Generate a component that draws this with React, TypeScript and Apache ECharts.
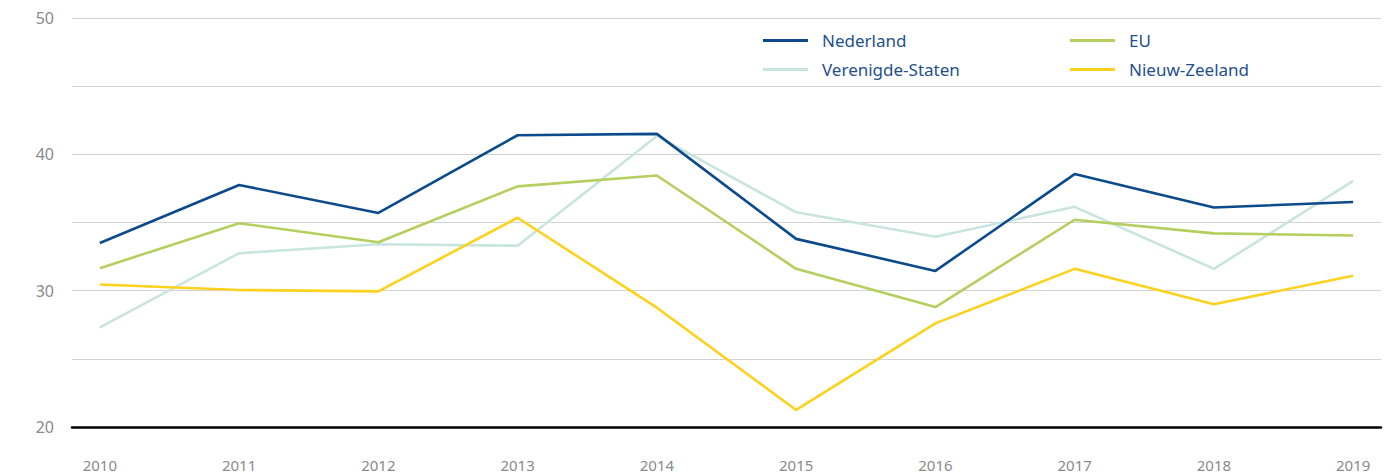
import React, { useEffect, useRef } from "react";
import * as echarts from "echarts";

const years = [2010, 2011, 2012, 2013, 2014, 2015, 2016, 2017, 2018, 2019];
const nederland = [33.5, 37.75, 35.7, 41.4, 41.5, 33.8, 31.45, 38.55, 36.1, 36.5];
const eu = [31.65, 34.95, 33.55, 37.65, 38.45, 31.6, 28.8, 35.2, 34.2, 34.05];
const verenigdeStaten = [27.3, 32.75, 33.4, 33.3, 41.35, 35.75, 33.95, 36.15, 31.6, 38.05];
const nieuwZeeland = [30.45, 30.05, 29.95, 35.35, 28.75, 21.25, 27.6, 31.6, 29.0, 31.1];
const yTickLabels = [20, 30, 40, 50];

const FONT = "'Noto Sans', sans-serif";

function zip(vals: number[]) {
  return years.map((y, i) => [y, vals[i]]);
}

export default function App() {
  const ref = useRef<HTMLDivElement>(null);
  useEffect(() => {
    if (!ref.current) return;
    const chart = echarts.init(ref.current, null, { renderer: "svg" });
    const legendCommon = {
      orient: "vertical" as const,
      padding: 0,
      icon: "rect",
      itemWidth: 45,
      itemHeight: 3,
      itemGap: 12,
      textStyle: {
        color: "#1f4f8e",
        fontSize: 17,
        lineHeight: 17,
        fontFamily: FONT,
        padding: [0, 0, 0, 9],
      },
    };
    const series = [
      { name: "Verenigde-Staten", color: "#c8e4df", data: verenigdeStaten },
      { name: "Nieuw-Zeeland", color: "#fdd11c", data: nieuwZeeland },
      { name: "EU", color: "#b5cf5e", data: eu },
      { name: "Nederland", color: "#0b4a8b", data: nederland },
    ].map((s) => ({
      type: "line" as const,
      name: s.name,
      data: zip(s.data),
      symbol: "none",
      color: s.color,
      itemStyle: { color: s.color },
      lineStyle: { color: s.color, width: 2.6 },
    }));
    chart.setOption({
      animation: false,
      textStyle: { fontFamily: FONT },
      grid: { left: 72, right: 14, top: 18, bottom: 46, containLabel: false },
      legend: [
        { ...legendCommon, left: 763, top: 32, data: ["Nederland", "Verenigde-Staten"] },
        { ...legendCommon, left: 1070, top: 32, data: ["EU", "Nieuw-Zeeland"] },
      ],
      xAxis: {
        type: "value",
        min: 2009.8,
        max: 2019.2,
        axisLine: { show: true, lineStyle: { color: "#000", width: 2.5 } },
        axisTick: { show: false },
        splitLine: { show: false },
        axisLabel: {
          customValues: years,
          formatter: (v: number) => String(v),
          color: "#8a8a8a",
          fontSize: 15,
          margin: 30,
          fontFamily: FONT,
        },
      },
      yAxis: {
        type: "value",
        min: 20,
        max: 50,
        interval: 5,
        axisLine: { show: false },
        axisTick: { show: false },
        splitLine: { lineStyle: { color: "#d2d2d2", width: 1 } },
        axisLabel: {
          formatter: (v: number) => (yTickLabels.includes(v) ? String(v) : ""),
          color: "#8a8a8a",
          fontSize: 16,
          margin: 18,
          fontFamily: FONT,
        },
      },
      series,
    });
    return () => chart.dispose();
  }, []);
  return (
    <div
      ref={ref}
      style={{ position: "fixed", left: 0, top: 0, width: 1395, height: 473, background: "#fff" }}
    />
  );
}
